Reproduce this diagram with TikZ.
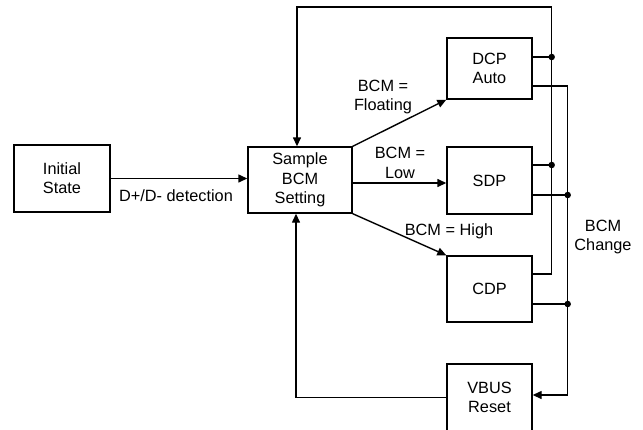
\documentclass[tikz,border=0pt]{standalone}
\usepackage{fontspec}
\setmainfont{Liberation Sans}
\usetikzlibrary{arrows.meta, positioning, calc}

\begin{document}
\begin{tikzpicture}[
    x = 1pt, y = -1pt,
    font        = \fontsize{16.3}{19.3}\selectfont,
    box/.style  = {draw, line width=1.4pt, inner sep=0pt, align=center,
                   minimum width=85pt, minimum height=66pt},
    arr/.style  = {-{Triangle[length=9pt,width=8pt]}, line width=1.4pt},
    wire/.style = {line width=1.4pt},
    jn/.style   = {circle, fill, inner sep=0pt, minimum size=6.5pt},
  ]
  \useasboundingbox (0,0) rectangle (643,429);
  \clip (0,0) rectangle (643,429);
  \node[box, minimum width=96pt, minimum height=67pt] (init) at (62,178.5) {Initial\\State};
  \node[box, minimum width=104pt] (sample) at (300,180) {Sample\\BCM\\Setting};
  \node[box, minimum height=61pt] (dcp) at (489.5,68.5) {DCP\\Auto};
  \node[box, minimum height=67pt] (sdp) at (489.5,180.5) {SDP};
  \node[box] (cdp) at (489.5,289) {CDP};
  \node[box, minimum height=67pt] (vbus) at (489.5,397.5) {VBUS\\Reset};
  % detection and BCM sampling
  \draw[arr] (init.east) -- (init.east -| sample.west);
  \draw[arr] (sample.north east) -- (dcp.south west);
  \draw[arr] ([yshift=-3pt]sample.east) -- ([yshift=-3pt]sample.east -| sdp.west);
  \draw[arr] (sample.south east) -- (cdp.north west);
  \node (lbldet) at (176,196) {D+/D- detection};
  \node[align=center] (lblfloat) at (383,97) {BCM =\\Floating};
  \node[align=center] (lbllow) at (400,163) {BCM =\\Low};
  \node (lblhigh) at (449,231) {BCM = High};
  % outputs of the ports to the two buses
  \draw[wire] ([yshift=11.5pt]dcp.east) -- ++(19,0) coordinate (d1);
  \draw[wire] ([yshift=-17.5pt]dcp.east) -- ++(35,0) coordinate (d2);
  \draw[wire] ([yshift=15.5pt]sdp.east) -- ++(19,0) coordinate (s1);
  \draw[wire] ([yshift=-14.5pt]sdp.east) -- ++(35,0) coordinate (s2);
  \draw[wire] ([yshift=15pt]cdp.east) -- ++(19,0) coordinate (c1);
  \draw[wire] ([yshift=-15pt]cdp.east) -- ++(35,0) coordinate (c2);
  % back to sampling
  \draw[arr] (c1) -- (c1 |- 0,7) -| ([xshift=-3pt]sample.north);
  % BCM change resets VBUS
  \draw[arr] (d2) -- (d2 |- 0,395) -- (vbus.east |- 0,395);
  \draw[arr] (vbus.west) -| ([xshift=-4pt]sample.south);
  \node[jn] (j1) at (d1) {};
  \node[jn] (j2) at (s1) {};
  \node[jn] (j3) at (s2) {};
  \node[jn] (j4) at (c2) {};
  \node[align=center] (lblchg) at (603,237) {BCM\\Change};
\end{tikzpicture}
\end{document}
